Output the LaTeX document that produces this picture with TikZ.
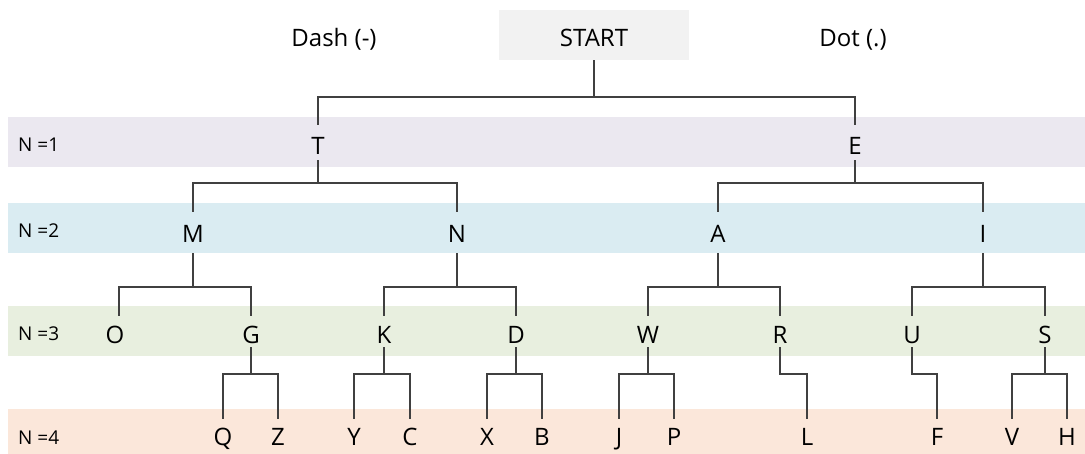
\documentclass[tikz,border=0pt]{standalone}
\usepackage{fontspec}
\setmainfont{Open Sans}
\definecolor{bandone}{HTML}{EBE8F0}
\definecolor{bandtwo}{HTML}{DAECF2}
\definecolor{bandthree}{HTML}{E8EFDF}
\definecolor{bandfour}{HTML}{FBE7DA}
\definecolor{startfill}{HTML}{F2F2F2}
\definecolor{linegray}{HTML}{404040}
\newcommand\bigtxt{\fontsize{24}{28}\selectfont}
\newcommand\smalltxt{\fontsize{19}{22}\selectfont}
% parent, left child, right child, y of the horizontal bar
\newcommand\forkto[4]{\draw[edge] (#1.south) -- (#1.south |- 0,#4) (#2.north) |- (#3.north |- 0,#4) -- (#3.north);}
\tikzset{
  edge/.style={draw=linegray, line width=1.1pt},
  ltr/.style={font=\bigtxt, inner sep=0pt, anchor=base},
  lvlone/.style={ltr, text height=30pt, text depth=5pt},
  lvltwo/.style={ltr, text height=31pt, text depth=10pt},
  lvlthree/.style={ltr, text height=28pt, text depth=3pt},
  lvlfour/.style={ltr, text height=27pt, text depth=0pt},
  rowlabel/.style={font=\smalltxt, inner sep=0pt, anchor=base west},
  toplabel/.style={font=\bigtxt, inner sep=0pt, anchor=base},
}
\begin{document}
\begin{tikzpicture}[x=1pt, y=-1pt]
\useasboundingbox (0,0) rectangle (1085,454);
% level bands
\fill[bandone]   (8,117) rectangle (1085,167);
\fill[bandtwo]   (8,203) rectangle (1085,253);
\fill[bandthree] (8,306) rectangle (1085,356);
\fill[bandfour]  (8,409) rectangle (1085,459);
\node[rowlabel] (n1) at (18,152) {N =1};
\node[rowlabel] (n2) at (18,238) {N =2};
\node[rowlabel] (n3) at (18,341) {N =3};
\node[rowlabel] (n4) at (18,444) {N =4};
% header
\node[fill=startfill, font=\bigtxt, inner sep=0pt, minimum width=190pt, minimum height=50pt,
      text height=24pt, text depth=0pt] (start) at (594,35) {START};
\node[toplabel] (dash) at (334,47) {Dash (-)};
\node[toplabel] (dot) at (853,47) {Dot (.)};
% level 1
\node[lvlone] (T) at (318,155) {T};
\node[lvlone] (E) at (855,155) {E};
% level 2
\node[lvltwo] (M) at (193,243) {M};
\node[lvltwo] (N) at (457,243) {N};
\node[lvltwo] (A) at (718,243) {A};
\node[lvltwo] (I) at (983,243) {I};
% level 3
\node[lvlthree] (O) at (115,344) {O};
\node[lvlthree] (G) at (251,344) {G};
\node[lvlthree] (K) at (384,344) {K};
\node[lvlthree] (D) at (516,344) {D};
\node[lvlthree] (W) at (648,344) {W};
\node[lvlthree] (R) at (780,344) {R};
\node[lvlthree] (U) at (912,344) {U};
\node[lvlthree] (S) at (1045,344) {S};
% level 4
\node[lvlfour] (Q) at (223,446) {Q};
\node[lvlfour] (Z) at (278,446) {Z};
\node[lvlfour] (Y) at (354,446) {Y};
\node[lvlfour] (C) at (410,446) {C};
\node[lvlfour] (X) at (487,446) {X};
\node[lvlfour] (B) at (542,446) {B};
\node[lvlfour] (J) at (619,446) {J};
\node[lvlfour] (P) at (674,446) {P};
\node[lvlfour] (L) at (807,446) {L};
\node[lvlfour] (F) at (937,446) {F};
\node[lvlfour] (V) at (1012,446) {V};
\node[lvlfour] (H) at (1067,446) {H};
% connectors
\forkto{start}{T}{E}{97}
\forkto{T}{M}{N}{183}
\forkto{E}{A}{I}{183}
\draw[edge] (M.south) -- (M.south |- 0,287) ([xshift=4pt]O.north) |- (G.north |- 0,287) -- (G.north);
\forkto{N}{K}{D}{287}
\forkto{A}{W}{R}{287}
\forkto{I}{U}{S}{287}
\forkto{G}{Q}{Z}{374}
\forkto{K}{Y}{C}{374}
\forkto{D}{X}{B}{374}
\forkto{W}{J}{P}{374}
\draw[edge] (R.south) |- (L.north |- 0,374) -- (L.north);
\draw[edge] (U.south) |- (F.north |- 0,374) -- (F.north);
\forkto{S}{V}{H}{374}
\end{tikzpicture}
\end{document}
